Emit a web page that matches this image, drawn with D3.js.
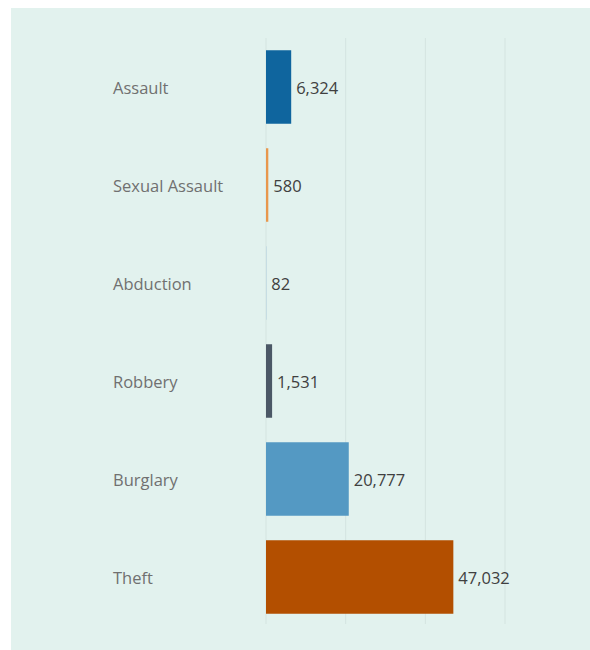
<!DOCTYPE html>
<html><head><meta charset="utf-8">
<script src="https://cdn.jsdelivr.net/npm/d3@7"></script>
<style>body{margin:0;background:#fff;}text{font-family:"Open Sans",sans-serif;}</style>
</head><body>
<script>
const categories = ["Assault","Sexual Assault","Abduction","Robbery","Burglary","Theft"];
const values = [6324, 580, 82, 1531, 20777, 47032];
const colors = ["#0f659e","#e8974c","#9cc3d9","#4b5866","#5499c3","#b34f00"];
const gridTicks = [0, 20000, 40000, 60000];

const W = 590, H = 650;
const svg = d3.select("body").append("svg").attr("width", W).attr("height", H);
svg.append("rect").attr("x", 11).attr("y", 8).attr("width", W - 11).attr("height", H - 8).attr("fill", "#e2f2ee");

const x = d3.scaleLinear().domain([0, 60000]).range([266, 505]);
const y = d3.scaleBand().domain(categories).range([38, 626]).paddingInner(0.25).paddingOuter(0.125);

svg.append("g").selectAll("line").data(gridTicks).join("line")
  .attr("x1", d => x(d)).attr("x2", d => x(d)).attr("y1", 38).attr("y2", 624)
  .attr("stroke", "#d4e4e0").attr("stroke-width", 1);

svg.append("g").selectAll("rect").data(categories).join("rect")
  .attr("x", x(0)).attr("y", d => y(d))
  .attr("width", (d, i) => Math.max(0, x(values[i]) - x(0)))
  .attr("height", y.bandwidth())
  .attr("fill", (d, i) => colors[i]);

svg.append("g").selectAll("text").data(categories).join("text")
  .attr("x", 113).attr("y", d => y(d) + y.bandwidth() / 2 + 1).attr("dy", "0.35em")
  .attr("font-size", 16.5).attr("fill", "#707070").text(d => d);

const fmt = d3.format(",");
svg.append("g").selectAll("text").data(categories).join("text")
  .attr("x", (d, i) => x(values[i]) + 5).attr("y", d => y(d) + y.bandwidth() / 2 + 1).attr("dy", "0.35em")
  .attr("font-size", 16.5).attr("fill", "#404040").text((d, i) => fmt(values[i]));
</script>
</body></html>
